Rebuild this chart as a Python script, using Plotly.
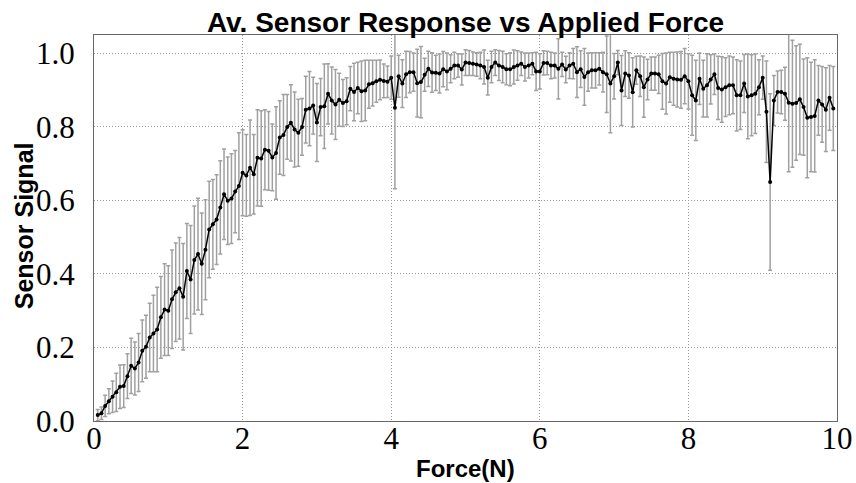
import plotly.graph_objects as go

# Force sampling grid (N): 0.05 N steps from 0.05 to 9.95
force = [round(0.05 * k, 2) for k in range(1, 200)]

signal = [
    0.016, 0.021, 0.041, 0.054, 0.066, 0.078, 0.093, 0.095, 0.122, 0.150,
    0.143, 0.159, 0.191, 0.202, 0.227, 0.238, 0.249, 0.282, 0.303, 0.300,
    0.331, 0.350, 0.361, 0.338, 0.408, 0.385, 0.438, 0.454, 0.428, 0.466,
    0.521, 0.535, 0.548, 0.581, 0.617, 0.599, 0.605, 0.624, 0.639, 0.675,
    0.668, 0.689, 0.671, 0.716, 0.714, 0.738, 0.735, 0.717, 0.729, 0.771,
    0.778,
    0.800, 0.811, 0.793, 0.784, 0.800, 0.847, 0.850, 0.858, 0.812, 0.854,
    0.856, 0.890, 0.872, 0.861, 0.874, 0.865, 0.870, 0.904, 0.895, 0.906,
    0.897, 0.899, 0.916, 0.919, 0.924, 0.928, 0.925, 0.923, 0.934, 0.852,
    0.938, 0.918, 0.943, 0.949, 0.949, 0.919, 0.922, 0.942, 0.958, 0.948,
    0.947, 0.945, 0.957, 0.951, 0.958, 0.967, 0.967, 0.956, 0.975,
    0.974, 0.972, 0.970, 0.967, 0.963, 0.934, 0.963, 0.975, 0.967, 0.963,
    0.957, 0.957, 0.963, 0.967, 0.972, 0.963, 0.967, 0.972, 0.951, 0.951,
    0.974, 0.974, 0.967, 0.967, 0.958, 0.970, 0.956, 0.967, 0.972, 0.949,
    0.957, 0.936, 0.949, 0.954, 0.954, 0.958, 0.949, 0.943, 0.918, 0.938,
    0.975, 0.899, 0.945, 0.940, 0.894, 0.954, 0.938, 0.908, 0.929, 0.945,
    0.945, 0.943, 0.924, 0.918, 0.935, 0.931, 0.929, 0.928, 0.938, 0.924,
    0.886, 0.872, 0.931, 0.904, 0.913, 0.929, 0.943, 0.906, 0.902, 0.908,
    0.913, 0.913, 0.886, 0.886, 0.918, 0.883, 0.886, 0.890, 0.908, 0.934,
    0.841, 0.650, 0.872, 0.895, 0.895, 0.890, 0.866, 0.863, 0.865, 0.875,
    0.854, 0.825, 0.827, 0.830, 0.872, 0.861, 0.847, 0.879, 0.850,
]

error = [
    0.015, 0.017, 0.029, 0.034, 0.043, 0.052, 0.059, 0.058, 0.061, 0.075,
    0.072, 0.079, 0.084, 0.086, 0.093, 0.104, 0.115, 0.111, 0.125, 0.122,
    0.134, 0.134, 0.138, 0.145, 0.129, 0.147, 0.147, 0.152, 0.138, 0.136,
    0.131, 0.122, 0.122, 0.127, 0.123, 0.119, 0.122, 0.112, 0.145, 0.117,
    0.111, 0.130, 0.108, 0.131, 0.130, 0.109, 0.107, 0.091, 0.126, 0.100,
    0.110,
    0.088, 0.104, 0.102, 0.091, 0.077, 0.091, 0.101, 0.077, 0.106, 0.078,
    0.115, 0.082, 0.091, 0.095, 0.072, 0.064, 0.064, 0.060, 0.078, 0.070,
    0.082, 0.082, 0.065, 0.062, 0.057, 0.054, 0.046, 0.043, 0.059, 0.220,
    0.057, 0.065, 0.063, 0.056, 0.052, 0.092, 0.097, 0.045, 0.048, 0.054,
    0.048, 0.053, 0.048, 0.050, 0.038, 0.036, 0.032, 0.042, 0.035,
    0.034, 0.032, 0.032, 0.036, 0.046, 0.047, 0.043, 0.035, 0.041, 0.043,
    0.042, 0.045, 0.046, 0.040, 0.032, 0.038, 0.034, 0.030, 0.052, 0.048,
    0.033, 0.032, 0.036, 0.034, 0.082, 0.033, 0.036, 0.035, 0.041, 0.069,
    0.050, 0.077, 0.052, 0.048, 0.048, 0.044, 0.054, 0.104, 0.134, 0.062,
    0.033, 0.095, 0.062, 0.062, 0.094, 0.038, 0.055, 0.082, 0.055, 0.045,
    0.045, 0.052, 0.076, 0.083, 0.068, 0.072, 0.075, 0.077, 0.075, 0.075,
    0.109, 0.109, 0.070, 0.077, 0.086, 0.067, 0.055, 0.086, 0.089, 0.080,
    0.080, 0.077, 0.097, 0.093, 0.079, 0.115, 0.110, 0.108, 0.075, 0.059,
    0.138, 0.240, 0.068, 0.057, 0.059, 0.072, 0.188, 0.173, 0.156, 0.150,
    0.131, 0.163, 0.149, 0.153, 0.095, 0.103, 0.114, 0.088, 0.114,
]

x_ticks = [0, 2, 4, 6, 8, 10]
y_ticks = [0.0, 0.2, 0.4, 0.6, 0.8, 1.0]
y_tick_text = ["0.0", "0.2", "0.4", "0.6", "0.8", "1.0"]

fig = go.Figure()
fig.add_trace(go.Scatter(
    x=force, y=signal, mode="lines+markers",
    line=dict(color="black", width=1.5),
    marker=dict(color="black", size=4),
    error_y=dict(type="data", array=error, visible=True,
                 color="#a0a0a0", thickness=1.5, width=2),
    showlegend=False,
))

sans = "Liberation Sans, Arial, sans-serif"
tick_font = dict(family="Liberation Serif, DejaVu Serif, serif", size=31, color="black")
fig.update_layout(
    width=856, height=483,
    margin=dict(l=94, r=19, t=35, b=62),
    paper_bgcolor="white", plot_bgcolor="white",
    title=dict(text="<b>Av. Sensor Response vs Applied Force</b>",
               font=dict(family=sans, size=28, color="black"),
               x=0.5, xref="paper", xanchor="center",
               y=0.955, yref="container", yanchor="middle"),
    annotations=[
        dict(text="<b>Force(N)</b>", x=0.5, xref="paper", y=-0.122, yref="paper",
             xanchor="center", yanchor="middle", showarrow=False,
             font=dict(family=sans, size=24, color="black")),
        dict(text="<b>Sensor Signal</b>", x=-0.094, xref="paper", y=0.505, yref="paper",
             xanchor="center", yanchor="middle", showarrow=False, textangle=-90,
             font=dict(family=sans, size=25, color="black")),
    ],
)
grid = dict(showgrid=True, gridcolor="#9a9a9a", griddash="1px,2px", gridwidth=1,
            showline=True, linecolor="#666666", linewidth=1, mirror=True,
            zeroline=False, automargin=False, ticks="")
fig.update_xaxes(
    range=[0, 10], tickmode="array", tickvals=x_ticks,
    tickfont=tick_font, ticklabelstandoff=-10, **grid,
)
fig.update_yaxes(
    range=[0, 1.05], tickmode="array", tickvals=y_ticks, ticktext=y_tick_text,
    tickfont=tick_font, ticklabelstandoff=12, **grid,
)

fig.write_html("out.html", config={"displayModeBar": False},
               post_script="document.body.style.margin='0';")
